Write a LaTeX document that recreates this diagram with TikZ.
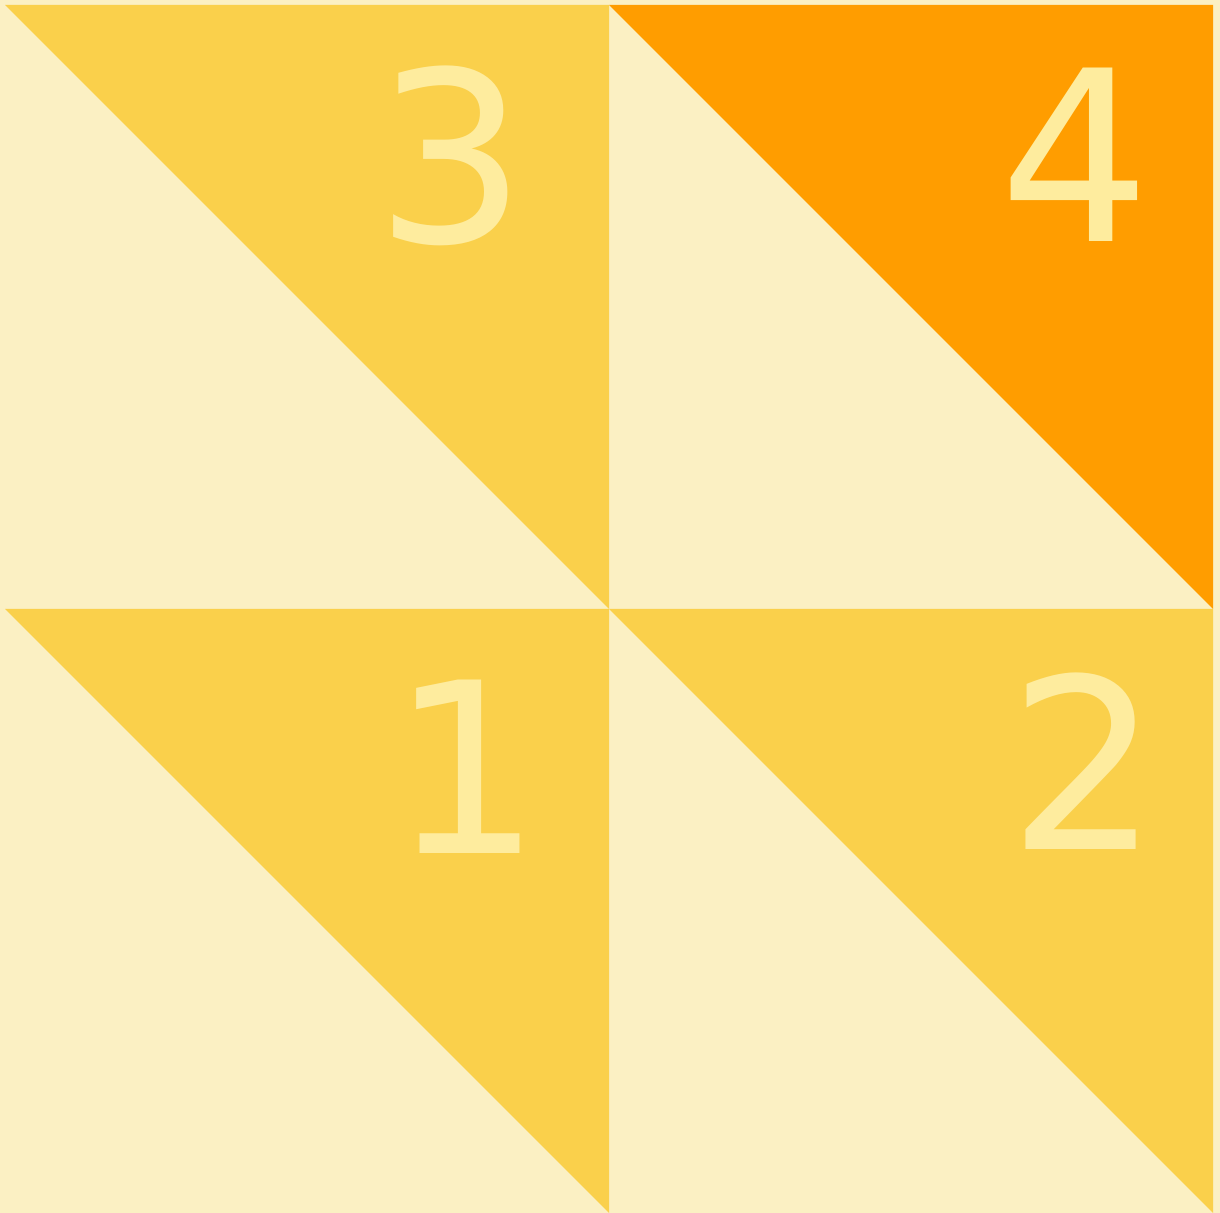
\documentclass[tikz,border=0pt]{standalone}
\usepackage{fontspec}
\setmainfont{DejaVu Sans}
\definecolor{cream}{HTML}{FBF0C3}
\definecolor{sun}{HTML}{FAD04B}
\definecolor{amber}{HTML}{FF9D00}
\definecolor{digit}{HTML}{FEEC9E}

\begin{document}
\begin{tikzpicture}[
    x=0.5pt, y=0.5pt,
    num/.style={text=digit, inner sep=0pt, font=\fontsize{119}{119}\selectfont}
]
\fill[cream] (0,0) rectangle (1220,1213);
% upper right half of every tile
\foreach \x/\y/\c in {5/0/sun, 609/0/sun, 5/604/sun, 609/604/amber}
    \fill[\c] (\x,\y+604) -- ++(604,0) -- ++(0,-604) -- cycle;

\node[num] (one)   at (466,446)  {1};
\node[num] (two)   at (1084,452) {2};
\node[num] (three) at (451,1057) {3};
\node[num] (four)  at (1075,1058) {4};
\end{tikzpicture}
\end{document}
